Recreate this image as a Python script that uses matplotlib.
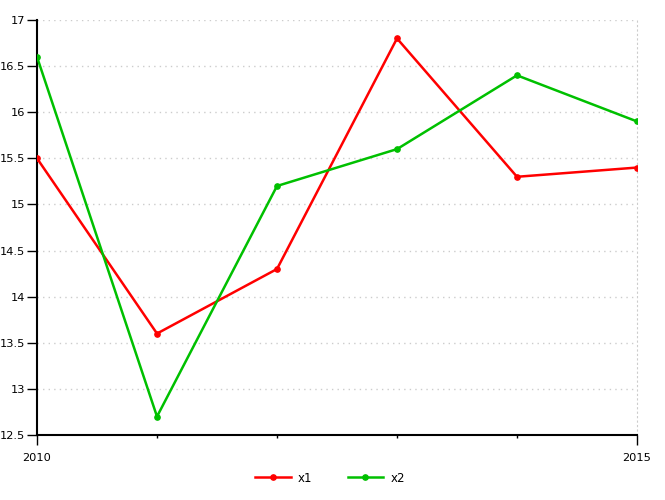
import matplotlib
matplotlib.use("Agg")
import matplotlib.pyplot as plt
from matplotlib.ticker import FixedLocator

years = [2010, 2011, 2012, 2013, 2014, 2015]
x1 = [15.5, 13.6, 14.3, 16.8, 15.3, 15.4]
x2 = [16.6, 12.7, 15.2, 15.6, 16.4, 15.9]
major_xticks = [2010, 2015]
major_xlabels = ["2010", "2015"]
yticks = [12.5, 13, 13.5, 14, 14.5, 15, 15.5, 16, 16.5, 17]

plt.rcParams['font.family'] = ['DejaVu Sans']
fig = plt.figure(figsize=(6.65, 5.0), dpi=100)
ax = fig.add_axes([37/665, 1-435/500, 600/665, 415/500])

ax.plot(years, x1, color='#ff0000', lw=1.8, marker='o', ms=3.8, label='x1', zorder=3)
ax.plot(years, x2, color='#00c000', lw=1.8, marker='o', ms=3.8, label='x2', zorder=3)

ax.set_xlim(2010, 2015)
ax.set_ylim(12.5, 17)
ax.set_yticks(yticks)
ax.set_yticklabels([f"{v:g}" for v in yticks])
ax.set_xticks(major_xticks)
ax.set_xticklabels(major_xlabels)
ax.xaxis.set_minor_locator(FixedLocator([2011, 2012, 2013, 2014]))
ax.tick_params(axis='both', which='major', length=7, width=1, labelsize=8.2, colors='black')
ax.tick_params(axis='x', which='major', pad=6)
ax.tick_params(axis='y', which='major', pad=1.5)
ax.tick_params(axis='x', which='minor', length=2, width=1)

ax.grid(axis='y', which='major', color='#cccccc', linestyle=(0, (1, 3)), lw=1)
ax.spines['top'].set_visible(False)
ax.spines['right'].set_visible(True)
ax.spines['right'].set_color('#cccccc')
ax.spines['right'].set_linestyle((0, (1, 3)))
for s in ['left', 'bottom']:
    ax.spines[s].set_linewidth(1.5)
    ax.spines[s].set_color('black')

fig.legend(loc='center', bbox_to_anchor=(330/665, 1-478/500), ncol=2, frameon=False,
           fontsize=8.5, handlelength=3, columnspacing=3, handletextpad=0.6)

fig.savefig('out.png', dpi=100)
